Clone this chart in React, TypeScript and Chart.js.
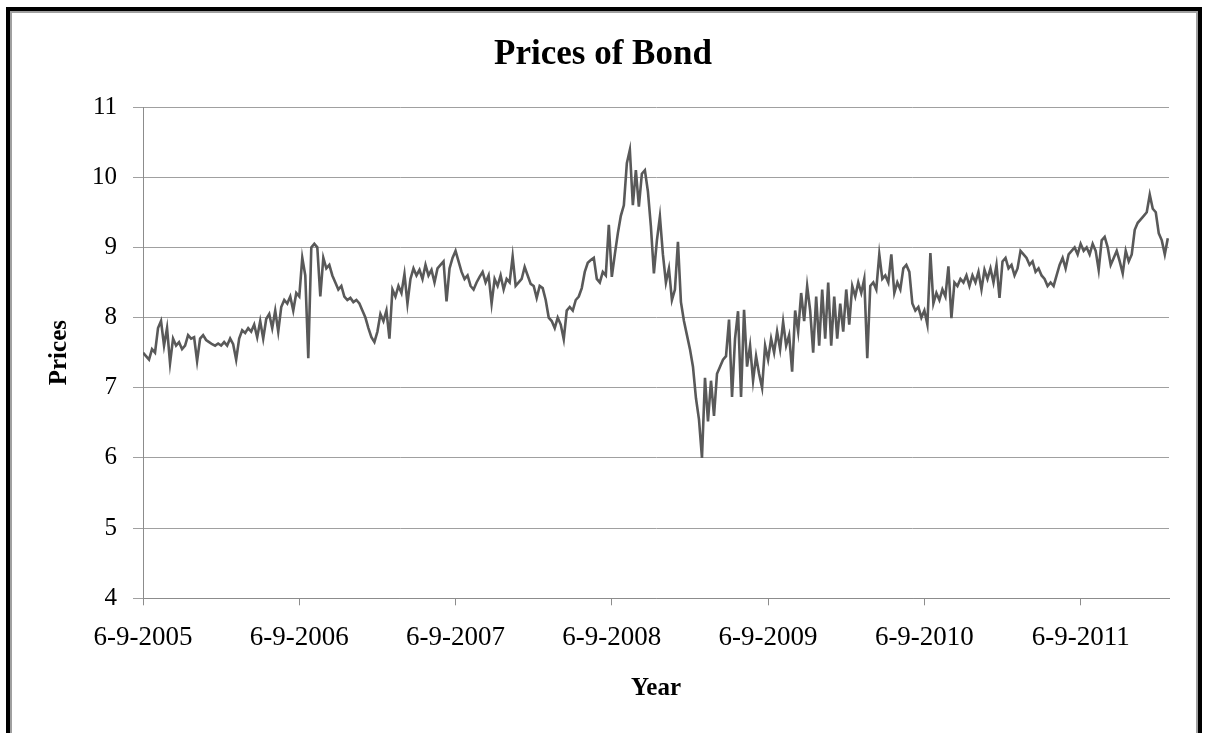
import { useEffect, useRef } from "react";
import { Chart, registerables } from "chart.js";

Chart.register(...registerables);

// Year tick labels, one per 52 weekly observations
const yearLabels = ["6-9-2005", "6-9-2006", "6-9-2007", "6-9-2008", "6-9-2009", "6-9-2010", "6-9-2011"];
const weeksPerYear = 52;
const lastWeek = 341.4;

// Weekly bond prices
const prices = [
  7.5, 7.45, 7.4, 7.55, 7.5, 7.85, 7.95, 7.6, 7.85, 7.35,
  7.7, 7.6, 7.65, 7.55, 7.6, 7.75, 7.7, 7.72, 7.38, 7.7,
  7.75, 7.68, 7.65, 7.62, 7.6, 7.63, 7.6, 7.65, 7.6, 7.7,
  7.62, 7.4, 7.7, 7.82, 7.78, 7.85, 7.8, 7.9, 7.72, 7.95,
  7.7, 7.98, 8.05, 7.85, 8.1, 7.8, 8.15, 8.25, 8.2, 8.3,
  8.1, 8.35, 8.3, 8.85, 8.6, 7.42, 9.0, 9.05, 9.0, 8.3,
  8.85, 8.7, 8.75, 8.6, 8.5, 8.4, 8.45, 8.3, 8.25, 8.28,
  8.22, 8.25, 8.2, 8.1, 8.0, 7.85, 7.72, 7.65, 7.8, 8.05,
  7.95, 8.1, 7.7, 8.4, 8.3, 8.45, 8.35, 8.62, 8.2, 8.55,
  8.7, 8.6, 8.68, 8.55, 8.75, 8.6, 8.68, 8.5, 8.7, 8.75,
  8.8, 8.23, 8.7, 8.85, 8.95, 8.8, 8.65, 8.55, 8.6, 8.45,
  8.4, 8.5, 8.58, 8.65, 8.5, 8.6, 8.2, 8.55, 8.45, 8.6,
  8.4, 8.55, 8.5, 8.87, 8.45, 8.5, 8.55, 8.72, 8.6, 8.48,
  8.45, 8.28, 8.45, 8.42, 8.25, 8.0, 7.95, 7.85, 8.0, 7.9,
  7.69, 8.1, 8.15, 8.1, 8.25, 8.3, 8.42, 8.65, 8.78, 8.82,
  8.85, 8.55, 8.5, 8.65, 8.6, 9.32, 8.58, 8.9, 9.2, 9.45,
  9.6, 10.2, 10.39, 9.6, 10.1, 9.58, 10.05, 10.1, 9.8, 9.3,
  8.63, 9.1, 9.44, 8.9, 8.5, 8.7, 8.25, 8.4, 9.08, 8.22,
  7.95, 7.75, 7.55, 7.3, 6.85, 6.55, 6.0, 7.14, 6.52, 7.1,
  6.6, 7.2, 7.3, 7.4, 7.45, 7.97, 6.87, 7.7, 8.09, 6.87,
  8.11, 7.3, 7.6, 7.1, 7.45, 7.2, 7.0, 7.6, 7.4, 7.7,
  7.5, 7.8, 7.55, 7.94, 7.6, 7.75, 7.23, 8.1, 7.8, 8.35,
  7.95, 8.45, 8.1, 7.5, 8.3, 7.6, 8.4, 7.7, 8.5, 7.6,
  8.3, 7.7, 8.2, 7.8, 8.4, 7.9, 8.45, 8.3, 8.5, 8.35,
  8.55, 7.42, 8.45, 8.5, 8.4, 8.9, 8.55, 8.6, 8.5, 8.9,
  8.35, 8.5, 8.4, 8.7, 8.75, 8.65, 8.2, 8.1, 8.15, 8.0,
  8.1, 7.9, 8.92, 8.2, 8.35, 8.25, 8.4, 8.3, 8.73, 7.99,
  8.5, 8.45, 8.55, 8.5, 8.6, 8.45, 8.6, 8.5, 8.65, 8.4,
  8.68, 8.55, 8.7, 8.5, 8.75, 8.28, 8.8, 8.85, 8.7, 8.75,
  8.6, 8.7, 8.95, 8.9, 8.85, 8.75, 8.8, 8.65, 8.7, 8.6,
  8.55, 8.45, 8.5, 8.45, 8.6, 8.75, 8.85, 8.7, 8.9, 8.95,
  9.0, 8.9, 9.05, 8.95, 9.0, 8.9, 9.05, 8.95, 8.68, 9.1,
  9.15, 9.0, 8.75, 8.85, 8.95, 8.8, 8.63, 8.95, 8.8, 8.9,
  9.25, 9.35, 9.4, 9.45, 9.5, 9.75, 9.55, 9.5, 9.2, 9.1,
  8.9, 9.13,
];

const priceMin = 4;
const priceMax = 11;

const serif = "'Liberation Serif', 'Times New Roman', serif";

export default function App() {
  const canvasRef = useRef<HTMLCanvasElement>(null);

  useEffect(() => {
    const canvas = canvasRef.current;
    if (!canvas) return;
    const chart = new Chart(canvas, {
      type: "line",
      data: {
        datasets: [
          {
            data: prices.map((y, i) => ({ x: i, y })),
            borderColor: "#595959",
            borderWidth: 2.6,
            pointRadius: 0,
            tension: 0,
            fill: false,
          },
        ],
      },
      options: {
        responsive: false,
        animation: false,
        devicePixelRatio: 1,
        layout: { padding: { left: 37, right: 37, top: 0, bottom: 0 } },
        plugins: {
          legend: { display: false },
          tooltip: { enabled: false },
          title: {
            display: true,
            text: "Prices of Bond",
            color: "#000",
            font: { family: serif, size: 35, weight: "bold" },
            padding: { top: 34, bottom: 31 },
          },
        },
        scales: {
          x: {
            type: "linear",
            min: 0,
            max: lastWeek,
            afterFit: (s: any) => {
              s.height = 134.7;
            },
            ticks: {
              stepSize: weeksPerYear,
              includeBounds: false,
              autoSkip: false,
              maxRotation: 0,
              padding: 16,
              color: "#000",
              font: { family: serif, size: 27 },
              callback: (v: any) => yearLabels[Math.round(Number(v) / weeksPerYear)] ?? "",
            },
            grid: { drawOnChartArea: false, drawTicks: true, tickLength: 7, color: "#8c8c8c" },
            border: { display: true, color: "#8c8c8c", width: 1 },
            title: {
              display: true,
              text: "Year",
              color: "#000",
              font: { family: serif, size: 25, weight: "bold" },
              padding: { top: 0, bottom: 29 },
            },
          },
          y: {
            min: priceMin,
            max: priceMax,
            afterFit: (s: any) => {
              s.width = 106;
            },
            ticks: {
              stepSize: 1,
              padding: 16,
              color: "#000",
              font: { family: serif, size: 25 },
            },
            grid: { color: "#a0a0a0", tickLength: 10 },
            border: { display: true, color: "#8c8c8c", width: 1 },
            title: {
              display: true,
              text: "Prices",
              color: "#000",
              font: { family: serif, size: 25, weight: "bold" },
              padding: { top: 8, bottom: 0 },
            },
          },
        },
      },
    });
    return () => chart.destroy();
  }, []);

  return (
    <>
      <canvas
        ref={canvasRef}
        width={1206}
        height={733}
        style={{ position: "fixed", left: 0, top: 0, width: 1206, height: 733, background: "#fff" }}
      />
      <div
        style={{
          position: "fixed",
          left: 6,
          top: 7,
          width: 1196,
          height: 800,
          boxSizing: "border-box",
          border: "4px solid #000",
          boxShadow: "inset 0 0 0 2px #a0a0a0",
          pointerEvents: "none",
        }}
      />
    </>
  );
}
